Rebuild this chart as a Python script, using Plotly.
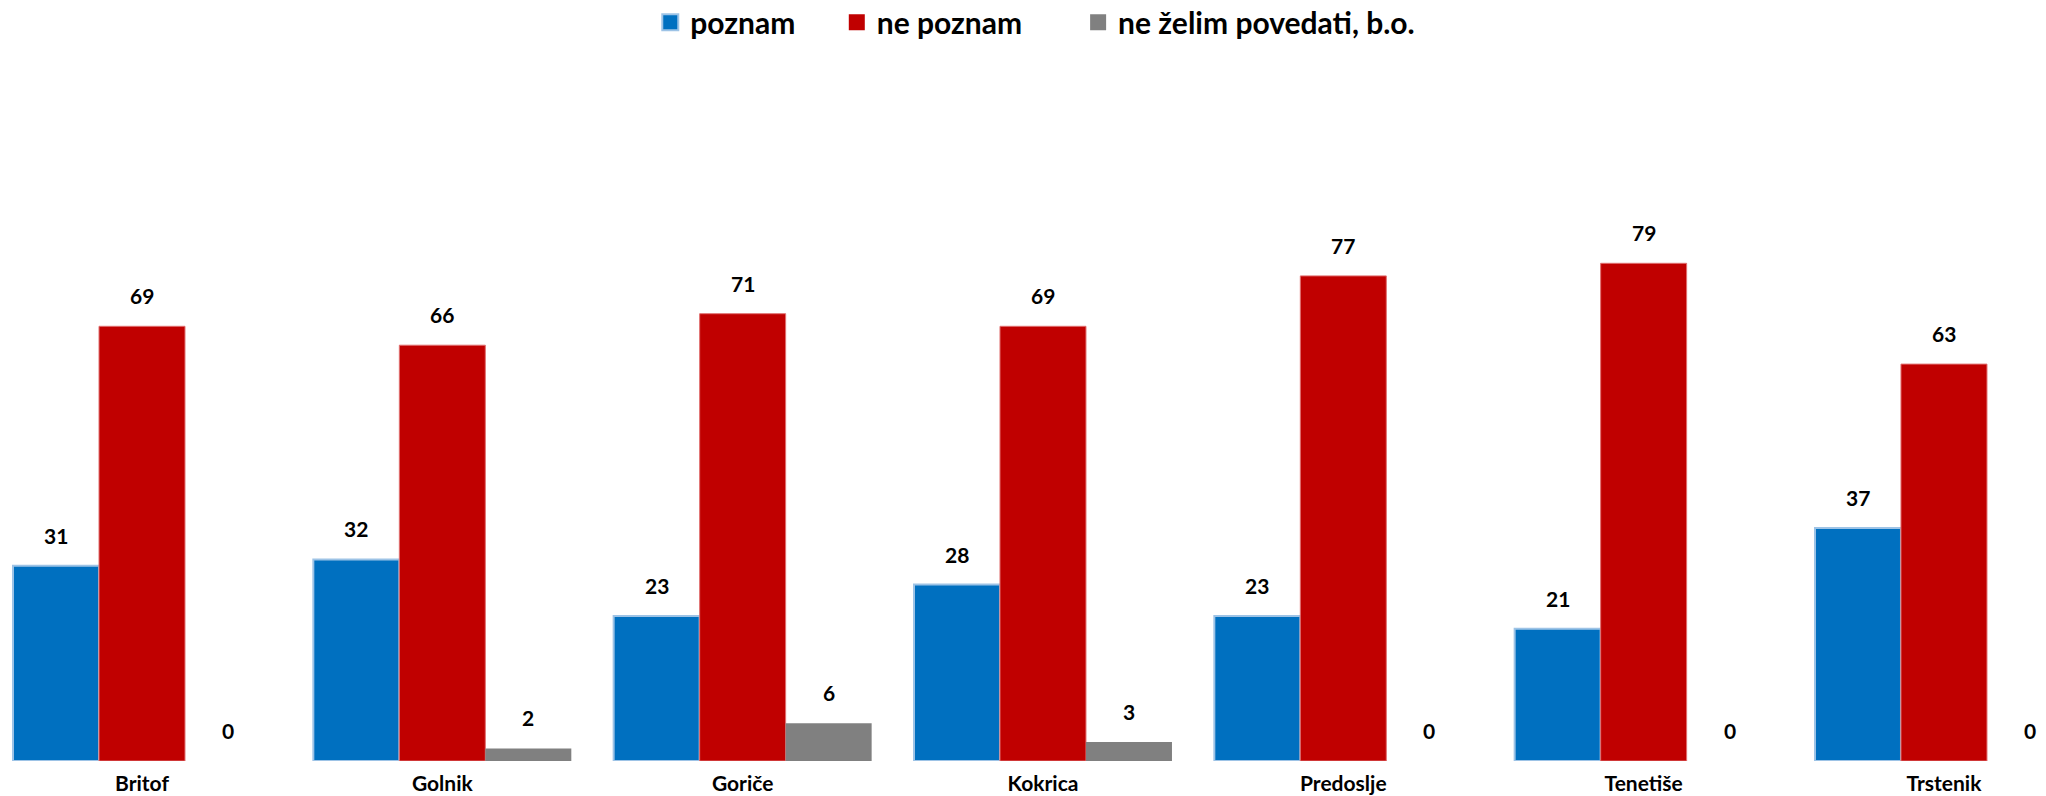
import plotly.graph_objects as go

categories = ["Britof", "Golnik", "Goriče", "Kokrica", "Predoslje", "Tenetiše", "Trstenik"]
poznam = [31, 32, 23, 28, 23, 21, 37]
ne_poznam = [69, 66, 71, 69, 77, 79, 63]
ne_zelim = [0, 2, 6, 3, 0, 0, 0]

series_names = ["poznam", "ne poznam", "ne želim povedati, b.o."]
series_values = [poznam, ne_poznam, ne_zelim]
fill_colors = ["#0070C0", "#C00000", "#808080"]
line_colors = ["#9DC3E6", "#E07070", "#808080"]
line_widths = [2, 1, 0]
legend_pad = [5, 7, 0]  # non-breaking spaces after legend names

FONT = "Lato"
BARGAP = 0.141

fig = go.Figure()
for name, vals, fc, lc, lw in zip(series_names, series_values, fill_colors, line_colors, line_widths):
    fig.add_trace(go.Bar(
        name=name, x=categories, y=vals, showlegend=False,
        marker=dict(color=fc, line=dict(color=lc, width=lw)),
    ))

# legend entries with larger square symbols
for name, fc, lc, lw, pad in zip(series_names, fill_colors, line_colors, line_widths, legend_pad):
    fig.add_trace(go.Scatter(
        name=name + "\u00a0" * pad, x=[None], y=[None], mode="markers",
        marker=dict(symbol="square", size=16, color=fc,
                    line=dict(color=lc if lw > 1 else fc, width=2 if lw > 1 else 0)),
        hoverinfo="skip",
    ))

# value labels above bars
bar_w = (1 - BARGAP) / len(series_values)
for i, vals in enumerate(series_values):
    off = (i - (len(series_values) - 1) / 2) * bar_w
    for j, v in enumerate(vals):
        fig.add_annotation(
            x=j + off, y=v, xref="x", yref="y",
            text=f"<b>{v}</b>", showarrow=False,
            yanchor="bottom", yshift=16,
            font=dict(family=FONT, size=21, color="#000000"),
        )

fig.update_layout(
    width=2046, height=796,
    margin=dict(l=0, r=0, t=131, b=35),
    paper_bgcolor="white", plot_bgcolor="white",
    barmode="group", bargap=BARGAP, bargroupgap=0,
    font=dict(family=FONT, color="#000000"),
    showlegend=True,
    legend=dict(
        orientation="h", x=0.506, xanchor="center",
        yref="container", y=0.972, yanchor="middle",
        font=dict(family=FONT, size=30, color="#000000", weight="bold"),
        itemclick=False, itemdoubleclick=False,
    ),
    xaxis=dict(
        type="category", range=[-0.4728, 6.3397],
        showgrid=False, showline=False, zeroline=False, ticks="",
        tickfont=dict(family=FONT, size=21, color="#000000", weight="bold"),
        ticklabelstandoff=8, automargin=False,
    ),
    yaxis=dict(
        range=[0, 100], visible=False, showgrid=False, zeroline=False,
        automargin=False,
    ),
)

fig.write_html(
    "out.html",
    config={"displayModeBar": False},
    post_script="document.body.style.margin='0';document.body.style.overflow='hidden';",
)
